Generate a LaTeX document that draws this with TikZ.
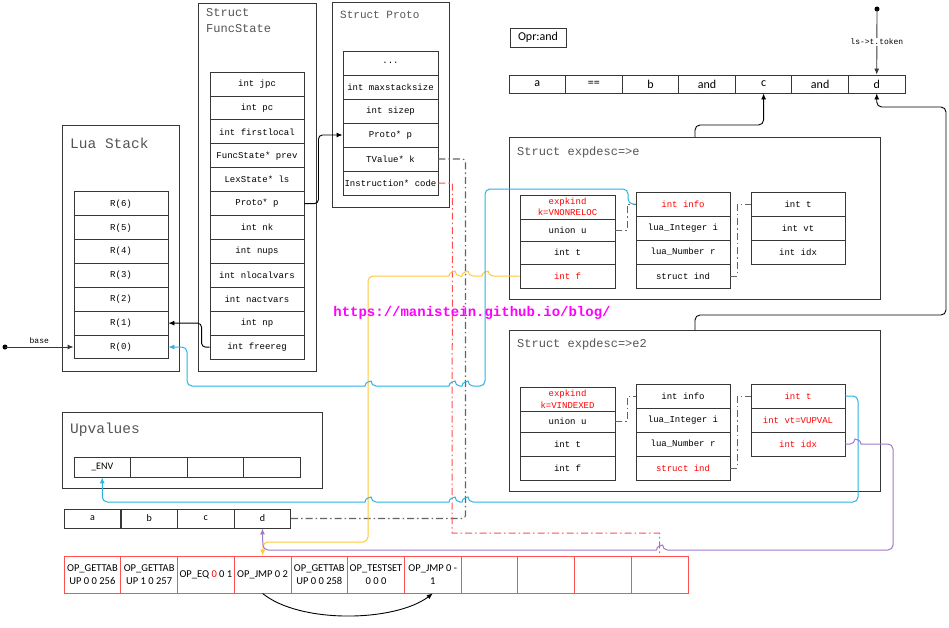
\documentclass[tikz,border=0pt]{standalone}
\usepackage{fontspec}
\setmainfont{Liberation Mono}
\newfontfamily\sfont{Carlito}
\usetikzlibrary{arrows.meta}

\definecolor{boxgray}{RGB}{55,55,55}
\definecolor{ttlgray}{RGB}{85,85,85}
\definecolor{dashgray}{RGB}{100,100,100}
\definecolor{ylw}{RGB}{255,200,60}
\definecolor{blu}{RGB}{40,180,230}
\definecolor{prp}{RGB}{160,120,200}
\definecolor{redln}{RGB}{255,80,80}
\definecolor{wmark}{RGB}{255,0,255}

% hop over a vertical line, path running to the left / right
\newcommand{\hopleft}[2]{-- ({#1+3},#2) [sharp corners] .. controls ({#1+3},{#2-4.5}) and ({#1-3},{#2-4.5}) .. ({#1-3},#2) [rounded corners=5pt]}
\newcommand{\hopright}[2]{-- ({#1-3},#2) [sharp corners] .. controls ({#1-3},{#2-4.5}) and ({#1+3},{#2-4.5}) .. ({#1+3},#2) [rounded corners=5pt]}

\tikzset{
    frame/.style={draw=boxgray, line width=1pt},
    cell/.style={draw=boxgray, line width=0.9pt, minimum width=94pt, minimum height=24pt,
        inner sep=0pt, align=center, font=\fontsize{9}{11.5}\selectfont},
    scell/.style={draw=boxgray, line width=0.9pt, minimum width=56.7pt, minimum height=19pt,
        inner sep=0pt, font=\sfont\fontsize{10}{11}\selectfont},
    icell/.style={draw=redln, line width=0.9pt, minimum width=56.73pt, minimum height=37pt,
        inner sep=0pt, align=center, font=\sfont\fontsize{10.5}{12.5}\selectfont},
    ttl/.style={anchor=west, inner sep=0pt, text=ttlgray},
    arr/.style={-{Latex[length=6pt,width=5pt]}},
    ddot/.style={dash pattern=on 7pt off 3pt on 1.5pt off 3pt},
}

\begin{document}
\begin{tikzpicture}[x=1pt,y=-1pt]
    \useasboundingbox[fill=white] (0,0) rectangle (949,627);

    % Lua Stack
    \draw[frame] (62,125) rectangle (179,371);
    \node[ttl, font=\fontsize{14.5}{16}\selectfont] (lstitle) at (70,143) {Lua Stack};
    \foreach \k in {0,...,6}
        \node[cell, minimum height=23.86pt] (r\k) at (121, {347-\k*23.86}) {R(\k)};
    \coordinate (basept) at (5,347);
    \fill (basept) circle [radius=2.5];
    \draw[arr, line width=0.9pt, draw=boxgray] (basept) -- node[above, font=\fontsize{8}{9}\selectfont, text=black] {base} (r0.west);

    % FuncState
    \draw[frame] (198,3) rectangle (316,371);
    \node[ttl, font=\fontsize{12}{16}\selectfont, align=left, anchor=north west] (fstitle) at (206,8) {Struct\\FuncState};
    \foreach \t/\n [count=\i from 0] in {int jpc/jpc, int pc/pc, int firstlocal/firstlocal, FuncState* prev/prev,
            LexState* ls/ls, Proto* p/p, int nk/nk, int nups/nups, int nlocalvars/nlocalvars,
            int nactvars/nactvars, int np/np, int freereg/freereg}
        \node[cell, minimum height=23.92pt] (fs\n) at (257, {84+\i*23.92}) {\t};

    % Proto
    \draw[frame] (332,2) rectangle (449,207);
    \node[ttl, font=\fontsize{11}{13}\selectfont] (prtitle) at (340,15) {Struct Proto};
    \foreach \t/\n [count=\i from 0] in {.{}.{}./dots, int maxstacksize/maxss, int sizep/sizep, Proto* p/p,
            TValue* k/k, Instruction* code/code}
        \node[cell, minimum width=95pt] (pr\n) at (390.5, {63+\i*24}) {\t};

    \draw[arr, line width=0.9pt, rounded corners=4pt] (fsp.east) -- ++(14,0) |- (prp.west);
    \draw[arr, line width=0.9pt, rounded corners=4pt] (fsfreereg.west) -- ++(-8,0) |- (r1.east);

    % token stream
    \node[draw=boxgray, line width=1pt, minimum width=56pt, minimum height=19pt, inner sep=0pt,
        font=\sfont\fontsize{12}{13}\selectfont] (opr) at (538,37.5) {Opr:and};
    \foreach \t [count=\i from 0] in {a,==,b,and,c,and,d}
        \node[scell, minimum width=56.57pt, minimum height=18pt, font=\sfont\fontsize{12}{13}\selectfont]
            (tok\i) at ({537.3+\i*56.57}, 84) {\t};
    \coordinate (tokpt) at (877,9);
    \fill (tokpt) circle [radius=2.5];
    \draw[arr, line width=0.9pt, draw=boxgray] (tokpt) -- node[fill=white, inner sep=1pt,
        font=\fontsize{8}{9}\selectfont, text=black] {ls->t.token} (tok6.north);

    % expdesc e
    \draw[frame] (509,137) rectangle (880,299);
    \node[ttl, font=\fontsize{12}{14}\selectfont] (etitle) at (517,152) {Struct expdesc=>e};
    \foreach \t/\n/\y/\h/\c in {{expkind\\k=VNONRELOC}/kind/207/24/red, union u/u/230/22/black,
            int t/t/252.5/23/black, int f/f/276/24/red}
        \node[cell, minimum width=95pt, minimum height=\h pt, text=\c] (e\n) at (567.5,\y) {\t};
    \foreach \t/\n/\c [count=\i from 0] in {int info/info/red, lua\_Integer i/i/black,
            lua\_Number r/r/black, struct ind/ind/black}
        \node[cell, text=\c] (e\n) at (683, {204+\i*24}) {\t};
    \foreach \t/\n [count=\i from 0] in {int t/t, int vt/vt, int idx/idx}
        \node[cell] (ex\n) at (798, {204+\i*24}) {\t};
    \draw[dashgray, line width=0.9pt, ddot] (eu.east) -- ++(12,0) |- (einfo.west);
    \draw[dashgray, line width=0.9pt, ddot] (eind.east) -- ++(7,0) |- (ext.west);

    % expdesc e2
    \draw[frame] (509,330) rectangle (880,491);
    \node[ttl, font=\fontsize{12}{14}\selectfont] (e2title) at (517,344) {Struct expdesc=>e2};
    \foreach \t/\n/\y/\h/\c in {{expkind\\k=VINDEXED}/kind/399/24/red, union u/u/421.5/21/black,
            int t/t/444/24/black, int f/f/468/24/black}
        \node[cell, minimum width=95pt, minimum height=\h pt, text=\c] (f\n) at (567.5,\y) {\t};
    \foreach \t/\n/\c [count=\i from 0] in {int info/info/black, lua\_Integer i/i/black,
            lua\_Number r/r/black, struct ind/ind/red}
        \node[cell, text=\c] (f\n) at (683, {396+\i*24}) {\t};
    \foreach \t/\n [count=\i from 0] in {int t/t, int vt=VUPVAL/vt, int idx/idx}
        \node[cell, text=red] (fx\n) at (798, {396+\i*24}) {\t};
    \draw[dashgray, line width=0.9pt, ddot] (fu.east) -- ++(12,0) |- (finfo.west);
    \draw[dashgray, line width=0.9pt, ddot] (find.east) -- ++(7,0) |- (fxt.west);

    \coordinate (etop) at (695,137);
    \coordinate (e2top) at (695,330);
    \draw[arr, line width=0.9pt, rounded corners=5pt] (etop) -- (695,125) -| (tok4.south);
    \draw[arr, line width=0.9pt, rounded corners=5pt] (e2top) -- (695,315) -- (946,315) -- (946,107) -| (tok6.south);

    % Upvalues
    \draw[frame] (62,412) rectangle (322,488);
    \node[ttl, font=\fontsize{14.5}{16}\selectfont] (uptitle) at (70,430) {Upvalues};
    \node[scell, minimum width=56.5pt, minimum height=20pt] (up0) at (102.25,467) {\_ENV};
    \foreach \i in {1,2,3}
        \node[scell, minimum width=56.5pt, minimum height=20pt] (up\i) at ({102.25+\i*56.5},467) {};

    % local variables
    \foreach \t [count=\i from 0] in {a,b,c,d}
        \node[scell] (l\t) at ({92.6+\i*56.6}, 518.5) {\t};

    % code
    \foreach \t [count=\i from 0] in {{OP\_GETTAB\\UP 0 0 256}, {OP\_GETTAB\\UP 1 0 257},
            {OP\_EQ \textcolor{red}{0} 0 1}, {OP\_JMP 0 2}, {OP\_GETTAB\\UP 0 0 258},
            {OP\_TESTSET\\0 0 0}, {OP\_JMP 0 -\\1}, {}, {}, {}, {}}
        \node[icell] (ins\i) at ({92.4+\i*56.73}, 574.5) {\t};
    \draw[arr, line width=0.9pt] (ins3.south) .. controls (300,624) and (395,622) .. (ins6.south);

    % pointers
    \draw[dashgray, line width=1.1pt, ddot, rounded corners=3pt] (prk.east) -- ++(27,0) |- (ld.east);
    \draw[redln, line width=1pt, ddot] (prcode.east) -- ++(14,0) -- (452,533) -| (ins10.north);

    \draw[ylw, line width=1pt, rounded corners=5pt, arr] (ef.west)
        \hopleft{485}{276} \hopleft{465}{276} \hopleft{452}{276}
        -- (368,276) -- (368,542) -- (263,542) -- (ins3.north);

    \draw[blu, line width=1pt, rounded corners=5pt, arr] (einfo.west) -| (628,189) -- (485,189) -- (485,386)
        \hopleft{465}{386} \hopleft{452}{386} \hopleft{368}{386}
        -- (187,386) -- (187,347) -- (r0.east);

    \draw[blu, line width=1pt, rounded corners=5pt, arr] (fxt.east) -- (858,396) -- (858,502)
        \hopleft{465}{502} \hopleft{452}{502} \hopleft{368}{502}
        -- (102.25,502) -- (up0.south);

    \draw[prp, line width=1pt, rounded corners=5pt, arr] (fxidx.east) \hopright{858}{444}
        -- (893,444) -- (893,550) \hopleft{659.5}{550}
        -- (263,550) -- (ld.south);

    % watermark
    \node[text=wmark, font=\bfseries\fontsize{14}{16}\selectfont, inner sep=0pt] (wm) at (472,313)
        {https://manistein.github.io/blog/};
\end{tikzpicture}
\end{document}
